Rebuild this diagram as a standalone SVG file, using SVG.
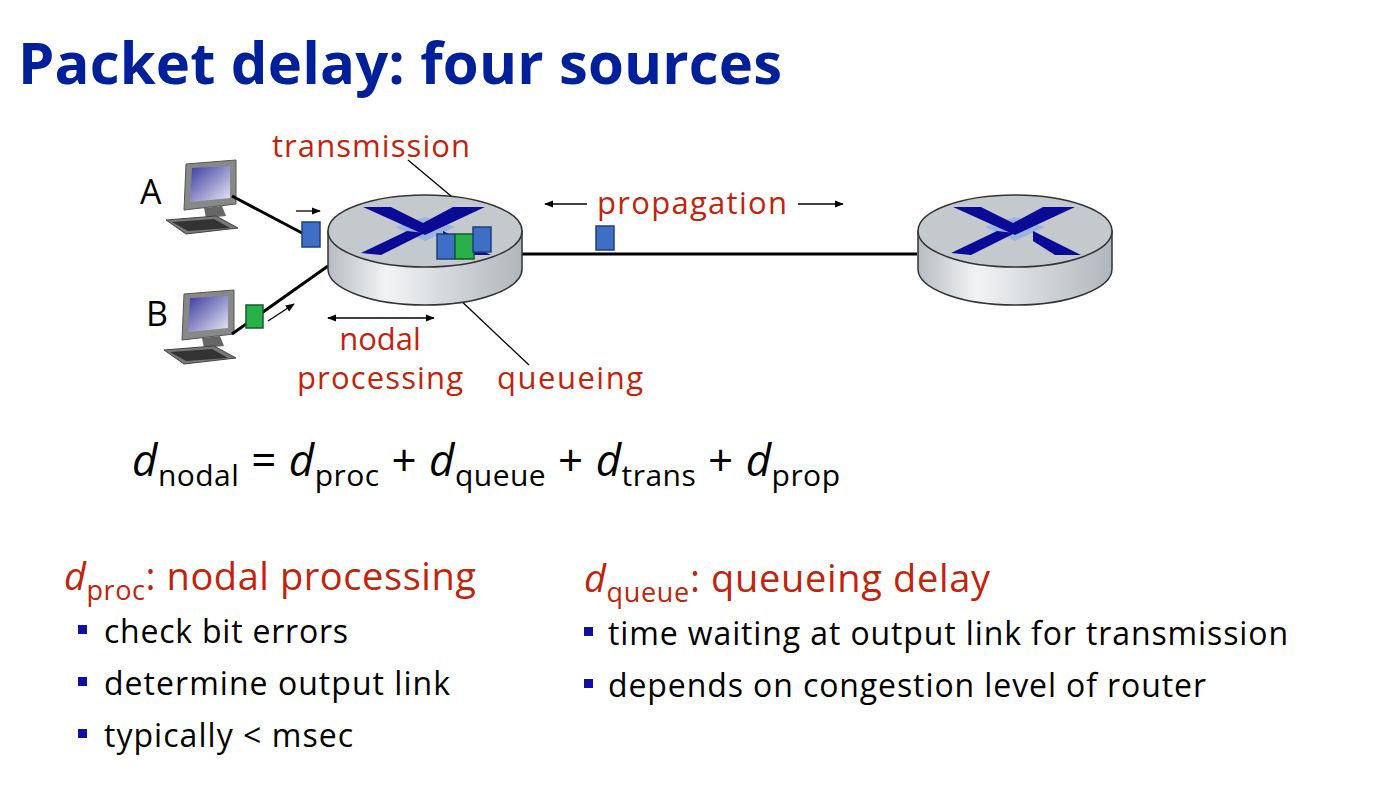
<svg xmlns="http://www.w3.org/2000/svg" width="1394" height="790" viewBox="0 0 1394 790">
<defs>
<style>
.t{font-family:"Open Sans","Noto Sans","Liberation Sans",sans-serif}
.red{fill:#c0240c}
.ln{stroke:#000;stroke-width:3;fill:none}
.thin{stroke:#000;stroke-width:1.3;fill:none}
.pb{fill:#3f6fc4;stroke:#1f3f7f;stroke-width:1.5}
.pg{fill:#28b04a;stroke:#1a5a2a;stroke-width:1.5}
</style>
<linearGradient id="side" x1="0" x2="1" y1="0" y2="0">
<stop offset="0" stop-color="#b8bcc0"/><stop offset="0.3" stop-color="#f2f3f4"/><stop offset="1" stop-color="#b0b6bb"/>
</linearGradient>
<linearGradient id="scr" x1="0" y1="0" x2="1" y2="1">
<stop offset="0" stop-color="#3a3aa0"/><stop offset="1" stop-color="#e8e8f4"/>
</linearGradient>
<marker id="ah" viewBox="0 0 10 10" refX="9" refY="5" markerWidth="7" markerHeight="7" orient="auto-start-reverse"><path d="M0,1 L10,5 L0,9 z" fill="#000"/></marker>
<g id="router">
<path d="M-97,0 L-97,38 A97,36 0 0 0 97,38 L97,0 Z" fill="url(#side)" stroke="#333" stroke-width="1.5"/>
<ellipse cx="0" cy="0" rx="97" ry="36" fill="#c3c9cd" stroke="#333" stroke-width="1.5"/>
<path d="M-30,-4 L0,-14 L30,-4 L0,10 Z" fill="#9ab4e0"/>
<path d="M-62,-24 L-34,-24 L-22,-18 L-2,-8 L28,-24 L60,-24 L0,4 Z" fill="#0a0a96"/>
<path d="M-18,0 L-64,22 L-44,24 L0,2 Z" fill="#0a0a96"/>
<path d="M18,0 L18,10 L40,24 L66,24 Z" fill="#0a0a96"/>
</g>
<g id="pc">
<path d="M20,0 L70,-4 L70,40 L18,46 Z" fill="#888" stroke="#555"/>
<path d="M26,4 L64,2 L64,34 L24,38 Z" fill="url(#scr)"/>
<path d="M38,44 L56,42 L60,52 L40,54 Z" fill="#666"/>
<path d="M0,56 L50,52 L72,64 L20,70 Z" fill="#777" stroke="#444"/>
<path d="M6,58 L48,55 L64,64 L22,67 Z" fill="#333"/>
</g>
</defs>
<rect width="1394" height="790" fill="#fff"/>
<text x="18" y="84" class="t" font-size="58" font-weight="bold" fill="#00209a" textLength="764">Packet delay: four sources</text>

<g id="hostA"><text x="140" y="204" class="t" font-size="34">A</text><use href="#pc" x="166" y="164"/></g>
<g id="hostB"><text x="146" y="326" class="t" font-size="34">B</text><use href="#pc" x="164" y="294"/></g>

<g id="connectors">
<line x1="232" y1="196" x2="302" y2="233" class="ln"/>
<line x1="232" y1="334" x2="328" y2="266" class="ln"/>
<line x1="522" y1="254" x2="917" y2="254" class="ln"/>
<line x1="296" y1="211" x2="320" y2="211" class="thin" marker-end="url(#ah)"/>
<line x1="268" y1="321" x2="294" y2="304" class="thin" marker-end="url(#ah)"/>
<line x1="328" y1="318" x2="434" y2="318" class="thin" marker-start="url(#ah)" marker-end="url(#ah)"/>
<line x1="434" y1="293" x2="482" y2="293" class="thin" marker-start="url(#ah)" marker-end="url(#ah)"/>
<line x1="587" y1="204" x2="545" y2="204" class="thin" marker-end="url(#ah)"/>
<line x1="798" y1="204" x2="843" y2="204" class="thin" marker-end="url(#ah)"/>
<line x1="408" y1="160" x2="482" y2="222" class="thin"/>
<line x1="456" y1="296" x2="529" y2="365" class="thin"/>
</g>

<g id="router1"><use href="#router" x="425" y="231"/>
<rect x="437" y="234" width="18" height="25" class="pb"/>
<rect x="455" y="234" width="19" height="25" class="pg"/>
<rect x="473" y="227" width="18" height="25" class="pb"/></g>
<g id="router2"><use href="#router" x="1015" y="231"/></g>
<g id="packets">
<rect x="302" y="222" width="18" height="25" class="pb"/>
<rect x="246" y="305" width="17" height="23" class="pg"/>
<rect x="596" y="226" width="18" height="24" class="pb"/>
</g>

<g id="labels" class="t red" font-size="31">
<text x="272" y="157" textLength="198">transmission</text>
<text x="597" y="214" textLength="190">propagation</text>
<text x="380" y="350" text-anchor="middle">nodal</text>
<text x="380" y="389" text-anchor="middle" textLength="166">processing</text>
<text x="497" y="389" textLength="146">queueing</text>
</g>

<g id="formula" class="t" font-size="44">
<text x="132" y="476" textLength="708"><tspan font-style="italic">d</tspan><tspan font-size="30" dy="10">nodal</tspan><tspan dy="-10"> = </tspan><tspan font-style="italic">d</tspan><tspan font-size="30" dy="10">proc</tspan><tspan dy="-10"> + </tspan><tspan font-style="italic">d</tspan><tspan font-size="30" dy="10">queue</tspan><tspan dy="-10"> + </tspan><tspan font-style="italic">d</tspan><tspan font-size="30" dy="10">trans</tspan><tspan dy="-10"> +  </tspan><tspan font-style="italic">d</tspan><tspan font-size="30" dy="10">prop</tspan></text>
</g>

<g id="left" class="t">
<text x="64" y="590" class="red" font-size="38" textLength="412"><tspan font-style="italic">d</tspan><tspan font-size="27" dy="10">proc</tspan><tspan dy="-10">: nodal processing</tspan></text>
<rect x="78" y="625" width="9" height="9" fill="#1010a0"/><text x="104" y="643" font-size="32" textLength="244">check bit errors</text>
<rect x="78" y="677" width="9" height="9" fill="#1010a0"/><text x="104" y="695" font-size="32" textLength="346">determine output link</text>
<rect x="78" y="729" width="9" height="9" fill="#1010a0"/><text x="104" y="747" font-size="32" textLength="249">typically &lt; msec</text>
</g>
<g id="right" class="t">
<text x="584" y="592" class="red" font-size="38" textLength="406"><tspan font-style="italic">d</tspan><tspan font-size="27" dy="10">queue</tspan><tspan dy="-10">: queueing delay</tspan></text>
<rect x="584" y="627" width="9" height="9" fill="#1010a0"/><text x="608" y="645" font-size="32" textLength="680">time waiting at output link for transmission</text>
<rect x="584" y="679" width="9" height="9" fill="#1010a0"/><text x="608" y="697" font-size="32" textLength="598">depends on congestion level of router</text>
</g>
</svg>
